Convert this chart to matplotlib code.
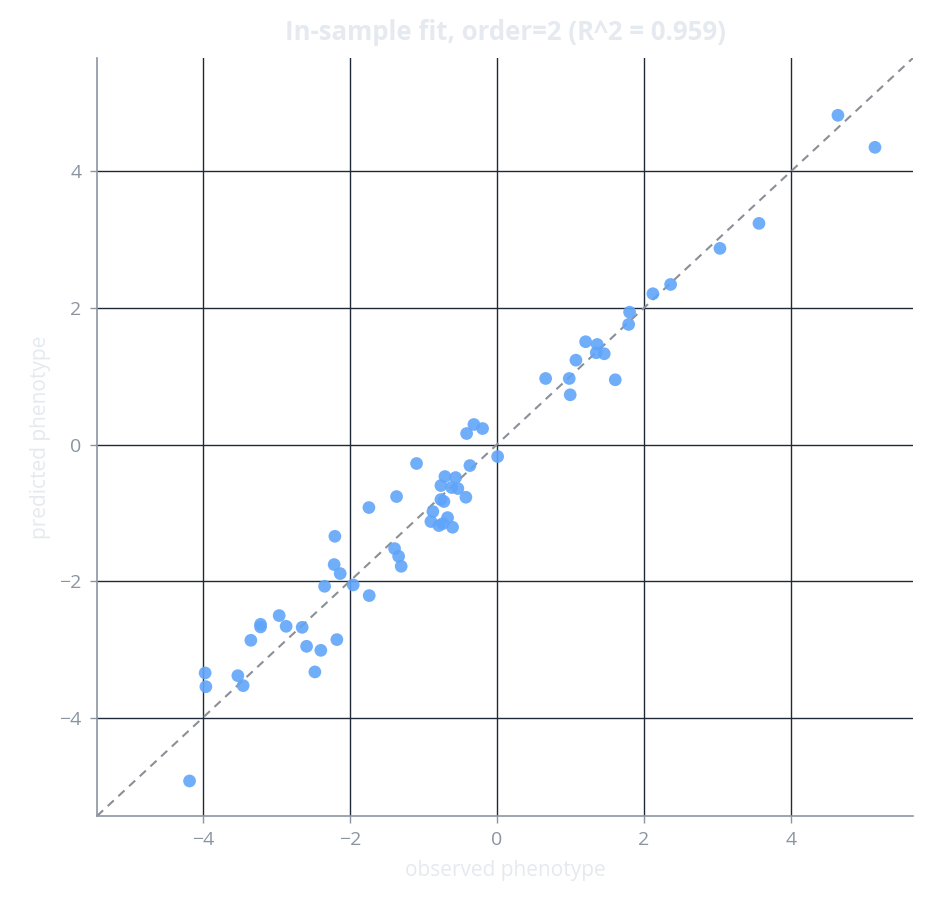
import matplotlib
matplotlib.use("Agg")
import matplotlib.pyplot as plt

observed = [4.639, 5.143, 3.565, 3.034, 2.363, 2.122, 1.805, 1.792, 1.207, 1.365,
            1.351, 1.460, 1.075, 0.663, 0.984, 1.610, 0.997, -0.313, -0.195, -0.412,
            0.010, -0.367, -1.093, -0.707, -0.562, -0.762, -0.616, -0.531, -0.422, -0.762,
            -0.721, -0.871, -0.671, -0.898, -0.789, -0.735, -0.603, -1.365, -1.741, -2.204,
            -1.392, -1.337, -1.302, -2.214, -2.132, -2.344, -1.955, -1.737, -2.962, -3.215,
            -3.215, -2.867, -2.649, -3.347, -2.589, -2.395, -2.177, -2.476, -3.969, -3.959,
            -3.524, -3.452, -4.181]
predicted = [4.821, 4.352, 3.238, 2.872, 2.344, 2.208, 1.938, 1.758, 1.505, 1.465,
             1.344, 1.329, 1.235, 0.967, 0.967, 0.948, 0.728, 0.293, 0.234, 0.161,
             -0.176, -0.308, -0.278, -0.469, -0.484, -0.601, -0.630, -0.645, -0.772, -0.806,
             -0.835, -0.982, -1.070, -1.128, -1.187, -1.158, -1.212, -0.762, -0.923, -1.344,
             -1.524, -1.637, -1.783, -1.758, -1.890, -2.076, -2.056, -2.212, -2.505, -2.633,
             -2.671, -2.662, -2.677, -2.867, -2.955, -3.014, -2.857, -3.330, -3.345, -3.546,
             -3.385, -3.531, -4.927]
ticks = [-4, -2, 0, 2, 4]
title = "In-sample fit, order=2 (R^2 = 0.959)"

plt.rcParams['font.family'] = ['Open Sans', 'DejaVu Sans']

fig = plt.figure(figsize=(9.39, 9.09), dpi=100)
ax = fig.add_axes([0.1033, 0.1023, 0.8690, 0.8339])

lo, hi = -5.44, 5.66
ax.set_xlim(lo, hi)
ax.set_ylim(lo, hi)

ax.grid(True, color='#1f2937', linewidth=1.0)
ax.set_axisbelow(True)

ax.plot([lo, hi], [lo, hi], linestyle=(0, (4, 3)), color='#8b8f96', linewidth=1.5, zorder=2)
ax.scatter(observed, predicted, s=84, color='#60a5fa', alpha=0.9, edgecolors='none', zorder=3)

ax.set_xticks(ticks)
ax.set_yticks(ticks)
ax.set_xticklabels([str(t).replace('-', '\u2212') for t in ticks])
ax.set_yticklabels([str(t).replace('-', '\u2212') for t in ticks])

for s in ['top', 'right']:
    ax.spines[s].set_visible(False)
for s in ['left', 'bottom']:
    ax.spines[s].set_color('#8b95a1')
    ax.spines[s].set_linewidth(1.2)
ax.tick_params(colors='#8b95a1', labelcolor='#8b95a1', labelsize=14, length=5, width=1, pad=6)

ax.set_xlabel('observed phenotype', color='#e5e9f0', fontsize=15, labelpad=8)
ax.set_ylabel('predicted phenotype', color='#e5e9f0', fontsize=15, labelpad=6)
ax.set_title(title, color='#e5e9f0', fontsize=18.5, fontweight='bold', pad=13)

fig.savefig('out.png', dpi=100)
